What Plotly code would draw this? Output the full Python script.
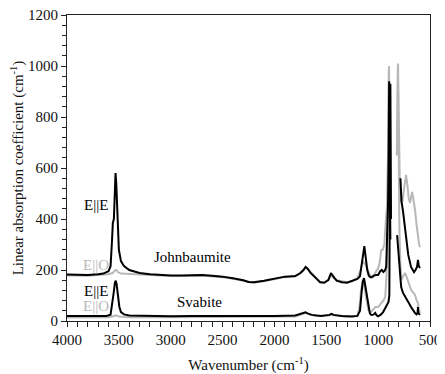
import plotly.graph_objects as go

# ---------------- data (wavenumber cm-1, absorption cm-1) ----------------
# Johnbaumite, E||E (black)
jb_ee_wn = [4000, 3900, 3800, 3700, 3650, 3600, 3580, 3568, 3558, 3548, 3538, 3532, 3525, 3515, 3500,
            3480, 3450, 3400, 3300, 3200, 3100, 3000, 2900, 2800, 2700, 2600, 2500, 2400, 2300, 2250,
            2200, 2100, 2000, 1900, 1800, 1750, 1720, 1700, 1680, 1650, 1600, 1560, 1520, 1480, 1455,
            1440, 1420, 1400, 1350, 1300, 1250, 1200, 1175, 1160, 1145, 1133, 1120, 1105, 1090, 1075,
            1060, 1040, 1020, 1000, 980, 965, 950, 935, 922, 913, 904, 898, 894, 890, 886, 882,
            None,
            785, 775, 760, 745, 731, 710, 683, 665, 654, 640, 625, 616, 608, 596]
jb_ee_val = [182, 180, 180, 183, 186, 195, 215, 300, 385, 400, 560, 580, 540, 400, 280,
             235, 215, 200, 188, 183, 180, 178, 178, 180, 180, 177, 174, 168, 160, 153,
             152, 158, 166, 174, 176, 188, 200, 212, 205, 188, 168, 152, 150, 160, 188,
             178, 168, 158, 152, 150, 156, 165, 175, 215, 270, 294, 250, 200, 178, 172,
             172, 178, 180, 180, 195, 200, 192, 198, 212, 330, 470, 700, 940, 700, 450, 320,
             None,
             560, 470, 430, 380, 330, 260, 212, 200, 192, 200, 212, 240, 215, 208]

# Johnbaumite, E||O (grey)
jb_eo_wn = [4000, 3800, 3700, 3600, 3560, 3540, 3525, 3510, 3480, 3400, 3300, 3200, 3000, 2800, 2700,
            2600, 2500, 2400, 2300, 2200, 2100, 2000, 1900, 1800, 1750, 1710, 1690, 1660, 1600, 1560,
            1520, 1480, 1455, 1440, 1400, 1300, 1250, 1200, 1170, 1150, 1140, 1120, 1100, 1080, 1060,
            1040, 1020, 1000, 985, 970, 955, 940, 930, 915, 905, 899, 895, 891, 887,
            None,
            818, 812, 808, 803, 797, 790, 780, 765, 750, 738, 731, 720, 705, 692, 680,
            673, 665, 655, 644, 630, 616, 605, 596]
jb_eo_val = [178, 177, 180, 183, 188, 198, 200, 192, 186, 184, 182, 180, 176, 176, 178,
             175, 172, 166, 158, 150, 156, 164, 172, 174, 186, 205, 210, 195, 168, 154,
             152, 162, 180, 172, 160, 152, 156, 168, 200, 235, 230, 220, 200, 180, 175,
             180, 195, 205, 230, 278, 280, 300, 369, 450, 650, 850, 1000, 800, 550,
             None,
             650, 850, 1010, 850, 650, 520, 465, 470, 520, 565, 573, 540, 480, 463, 490,
             506, 490, 465, 435, 380, 330, 300, 290]

# Svabite, E||E (black)
sv_ee_wn = [4000, 3800, 3700, 3620, 3580, 3565, 3550, 3538, 3530, 3522, 3510, 3495, 3480, 3450, 3400,
            3200, 3000, 2800, 2600, 2400, 2200, 2000, 1800, 1720, 1700, 1680, 1640, 1550, 1470, 1450,
            1430, 1350, 1250, 1200, 1175, 1160, 1148, 1136, 1125, 1110, 1095, 1080, 1066, 1045, 1028,
            1015, 1000, 975, 952, 930, 910, 900, 892, 888, 885, 882, 879, 876,
            None,
            817, 805, 795, 785, 778, 760, 745, 731, 710, 683, 660, 644, 630, 620, 616, 612, 596]
sv_ee_val = [20, 19, 19, 20, 25, 60, 110, 150, 158, 145, 100, 55, 35, 26, 22,
             20, 19, 20, 20, 19, 18, 20, 22, 30, 34, 30, 24, 20, 24, 28,
             24, 20, 18, 20, 40, 110, 155, 168, 140, 94, 50, 30, 24, 25, 32,
             22, 18, 25, 35, 50, 65, 75, 100, 318, 700, 930, 700, 400,
             None,
             337, 270, 227, 160, 133, 110, 100, 94, 75, 55, 38, 31, 26, 30, 55, 30, 24]

# Svabite, E||O (grey)
sv_eo_wn = [4000, 3800, 3600, 3560, 3530, 3500, 3400, 3000, 2500, 2000, 1800, 1720, 1700, 1680, 1600,
            1470, 1450, 1430, 1300, 1200, 1180, 1165, 1150, 1140, 1128, 1110, 1095, 1070, 1050, 1028,
            1000, 970, 950, 932, 920, 910, 902, 897, 893, 889,
            None,
            820, 814, 810, 805, 800, 795, 785, 778, 760, 740, 725, 700, 683, 660, 644,
            630, 616, 606, 596]
sv_eo_val = [14, 14, 15, 18, 22, 18, 15, 15, 16, 17, 18, 28, 33, 28, 20,
             22, 26, 22, 17, 20, 55, 122, 153, 150, 122, 75, 43, 35, 45, 55,
             55, 70, 80, 94, 172, 400, 700, 990, 700, 400,
             None,
             650, 850, 1000, 800, 500, 357, 220, 161, 175, 188, 173, 140, 122, 110, 102,
             82, 70, 43, 31]

x_ticks = [4000, 3500, 3000, 2500, 2000, 1500, 1000, 500]
y_ticks = [0, 200, 400, 600, 800, 1000, 1200]

# ---------------- figure ----------------
BLACK = "#000000"
GREY = "#b8b8b8"
FONT = "Liberation Serif, Times New Roman, serif"

fig = go.Figure()
for wn, val, col in [(jb_eo_wn, jb_eo_val, GREY), (sv_eo_wn, sv_eo_val, GREY),
                     (jb_ee_wn, jb_ee_val, BLACK), (sv_ee_wn, sv_ee_val, BLACK)]:
    fig.add_trace(go.Scatter(x=wn, y=val, mode="lines", line=dict(color=col, width=2),
                             connectgaps=False, showlegend=False, hoverinfo="skip"))

labels = [
    ("E||E", 3722, 455, BLACK),
    ("E||O", 3722, 220, GREY),
    ("Johnbaumite", 2790, 251, BLACK),
    ("E||E", 3722, 118, BLACK),
    ("E||O", 3722, 59, GREY),
    ("Svabite", 2725, 75, BLACK),
]
for txt, x, y, col in labels:
    fig.add_annotation(x=x, y=y, xref="x", yref="y", text=txt, showarrow=False,
                       font=dict(family=FONT, size=15, color=col))

axis_common = dict(showgrid=False, zeroline=False, showline=True, linecolor="#222",
                   linewidth=1, mirror=True, ticks="outside", ticklen=5, tickwidth=1,
                   tickcolor="#222", automargin=False, ticklabeloverflow="allow",
                   tickfont=dict(family=FONT, size=15, color="#111"))

fig.update_xaxes(range=[4000, 500], tickvals=x_ticks, ticktext=[str(v) for v in x_ticks],
                 minor=dict(dtick=100, tick0=0, ticks="outside", ticklen=5, tickcolor="#222"),
                 title=dict(text="Wavenumber (cm<sup>-1</sup>)",
                            font=dict(family=FONT, size=15, color="#111")),
                 **axis_common)
fig.update_yaxes(range=[0, 1200], tickvals=y_ticks, ticktext=[str(v) for v in y_ticks],
                 minor=dict(dtick=40, tick0=0, ticks="outside", ticklen=4, tickcolor="#222"),
                 title=dict(text="Linear absorption coefficient (cm<sup>-1</sup>)",
                            font=dict(family=FONT, size=15, color="#111")),
                 **axis_common)

# page body has an 8px default margin, so the figure is sized/offset to compensate
fig.update_layout(width=437, height=366, margin=dict(l=59, r=15, t=7, b=53),
                  paper_bgcolor="white", plot_bgcolor="white",
                  font=dict(family=FONT, size=15, color="#111"))

fig.write_html("out.html")
